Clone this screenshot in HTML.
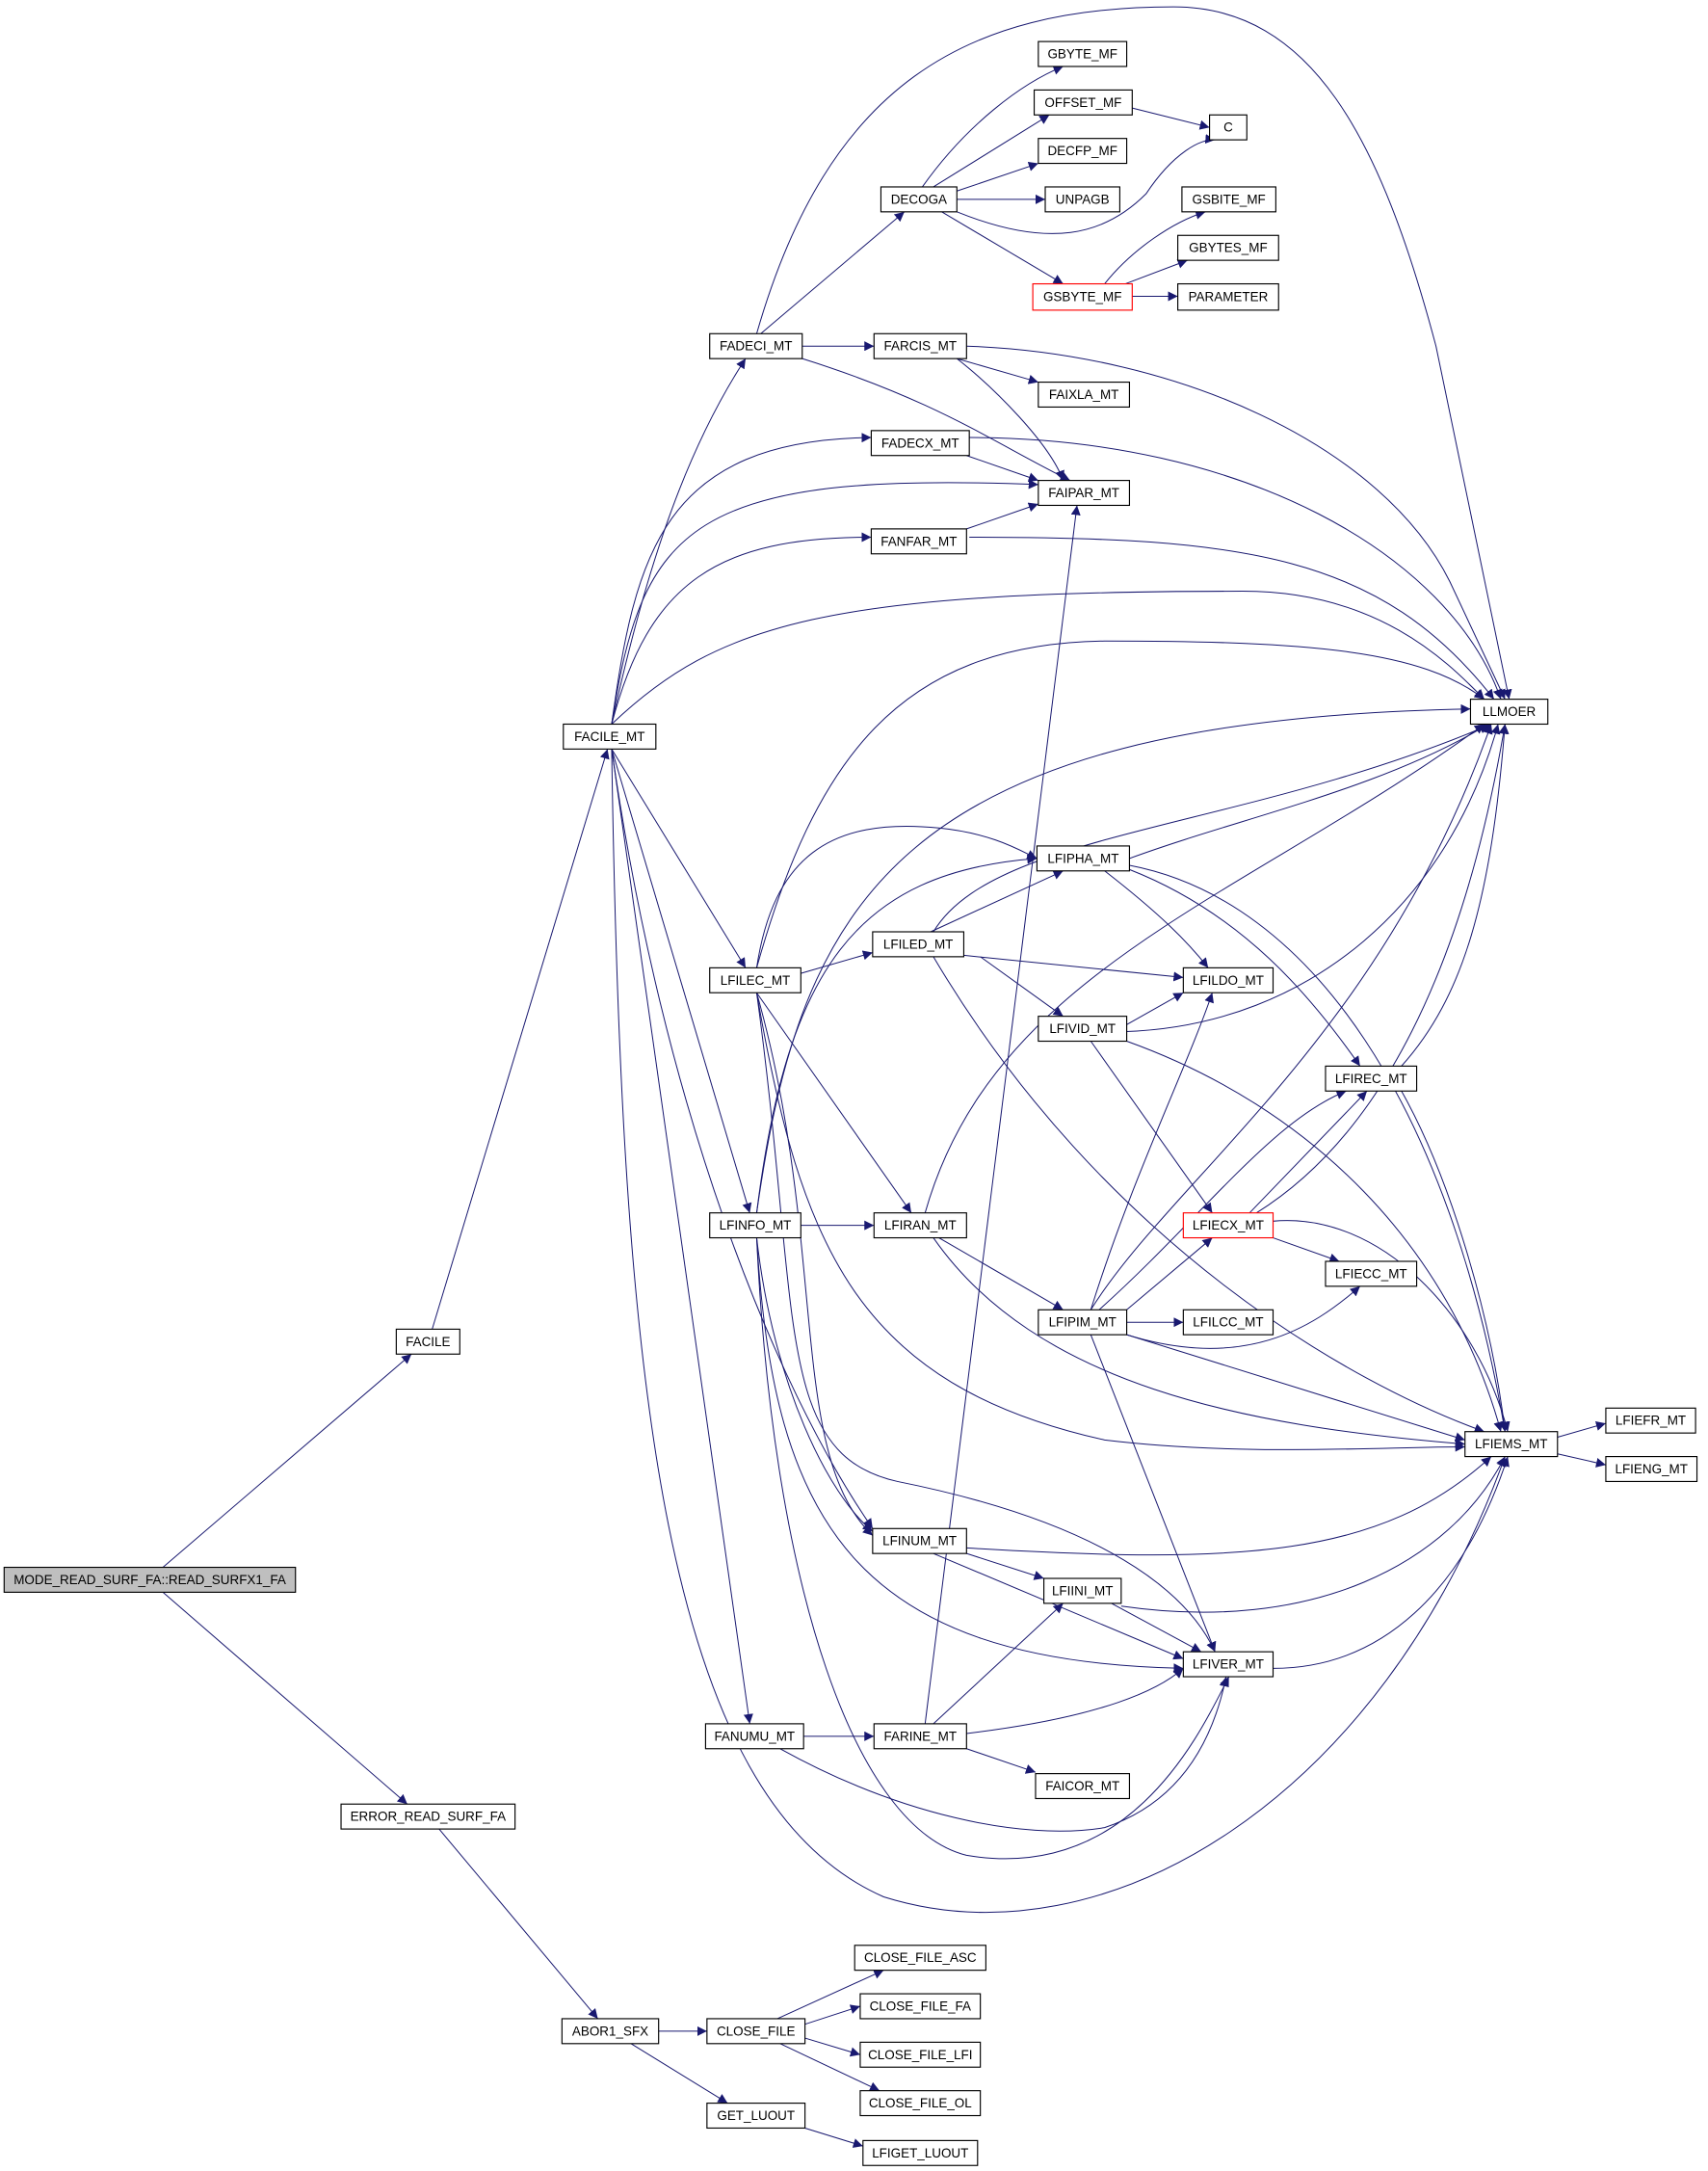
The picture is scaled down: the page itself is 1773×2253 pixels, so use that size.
<!DOCTYPE html>
<html><head><meta charset="utf-8"><style>
html,body{margin:0;padding:0;background:#fff;}
svg{display:block;}
text{font-family:"Liberation Sans",sans-serif;font-size:9.4px;fill:#000;text-anchor:middle;dominant-baseline:central;}
.n{fill:#fff;stroke:#000;stroke-width:0.8;}
.r{fill:#fff;stroke:#f00;stroke-width:0.8;}
.e{fill:none;stroke:#191970;stroke-width:0.7;marker-end:url(#a);}
</style></head><body>
<svg width="1773" height="2253" viewBox="0 0 1237 1568" preserveAspectRatio="none" xmlns="http://www.w3.org/2000/svg">
<defs><marker id="a" viewBox="0 0 10 10" refX="10" refY="5" markerWidth="7" markerHeight="7" markerUnits="userSpaceOnUse" orient="auto"><path d="M0,0 L10,5 L0,10 z" fill="#191970"/></marker></defs>
<g>
<path class="e" d="M118,1132 L298,978"/>
<path class="e" d="M118,1150 L295,1303"/>
<path class="e" d="M318,1321 L433,1458"/>
<path class="e" d="M477,1467 L512,1467"/>
<path class="e" d="M457,1476 L527,1519"/>
<path class="e" d="M563,1458 L640,1423"/>
<path class="e" d="M583,1462 L623,1449"/>
<path class="e" d="M583,1472 L623,1484"/>
<path class="e" d="M565,1476 L637,1510"/>
<path class="e" d="M583,1537 L625,1550"/>
<path class="e" d="M313,960 L440,541"/>
<path class="e" d="M443,523 C470,400 500,320 540,259"/>
<path class="e" d="M443,523 C460,400 480,318 631,316"/>
<path class="e" d="M443,523 C465,380 500,340 752,350"/>
<path class="e" d="M443,523 C470,420 520,388 631,388"/>
<path class="e" d="M443,523 C520,450 600,427 900,427 C1000,427 1050,480 1075,505"/>
<path class="e" d="M443,541 L540,699"/>
<path class="e" d="M443,541 L543,876"/>
<path class="e" d="M443,541 C480,800 560,1000 632,1104"/>
<path class="e" d="M443,541 L543,1245"/>
<path class="e" d="M443,541 C450,1000 480,1300 640,1370 C800,1420 1000,1300 1090,1052"/>
<path class="e" d="M551,241 L655,153"/>
<path class="e" d="M548,241 C600,60 700,5 850,5 C950,5 1000,100 1040,250 L1093,505"/>
<path class="e" d="M581,250 L633,250"/>
<path class="e" d="M581,259 C680,290 720,320 775,347"/>
<path class="e" d="M668,135 C700,90 740,60 770,48"/>
<path class="e" d="M676,135 L760,83"/>
<path class="e" d="M693,138 L752,118"/>
<path class="e" d="M693,144 L757,144"/>
<path class="e" d="M693,153 C760,180 800,170 830,140 C850,110 870,100 880,101"/>
<path class="e" d="M682,153 L770,205"/>
<path class="e" d="M820,78 L876,92"/>
<path class="e" d="M800,205 C820,180 850,160 873,153"/>
<path class="e" d="M815,205 L860,188"/>
<path class="e" d="M820,214 L853,214"/>
<path class="e" d="M693,259 L752,276"/>
<path class="e" d="M693,259 C720,280 760,320 770,347"/>
<path class="e" d="M700,250 C850,255 1000,320 1050,420 L1090,505"/>
<path class="e" d="M700,329 L752,347"/>
<path class="e" d="M702,316 C900,316 1050,400 1087,505"/>
<path class="e" d="M700,382 L752,364"/>
<path class="e" d="M702,388 C900,388 1000,400 1082,505"/>
<path class="e" d="M580,703 L632,688"/>
<path class="e" d="M548,699 C560,620 600,590 680,598 C720,602 740,615 751,620"/>
<path class="e" d="M548,699 C590,550 650,465 800,463 C950,463 1030,470 1075,505"/>
<path class="e" d="M548,717 L660,876"/>
<path class="e" d="M548,717 C580,900 620,1000 800,1040 C900,1052 1000,1045 1061,1045"/>
<path class="e" d="M548,717 C600,900 570,1050 632,1109"/>
<path class="e" d="M548,717 C580,950 560,1050 650,1070 C800,1100 860,1150 880,1193"/>
<path class="e" d="M674,673 L770,629"/>
<path class="e" d="M698,690 L857,706"/>
<path class="e" d="M710,691 L770,734"/>
<path class="e" d="M676,673 C720,600 900,600 1080,523"/>
<path class="e" d="M676,691 C800,900 980,1000 1075,1034"/>
<path class="e" d="M818,620 C900,590 1000,570 1078,523"/>
<path class="e" d="M800,629 C840,660 860,680 875,699"/>
<path class="e" d="M818,628 C900,660 950,720 985,770"/>
<path class="e" d="M818,625 C950,650 1050,800 1090,1034"/>
<path class="e" d="M816,740 L857,717"/>
<path class="e" d="M816,745 C950,740 1050,650 1085,523"/>
<path class="e" d="M790,752 L878,876"/>
<path class="e" d="M816,752 C950,800 1050,900 1087,1034"/>
<path class="e" d="M1015,770 C1060,720 1080,650 1090,523"/>
<path class="e" d="M1015,788 C1050,850 1080,950 1090,1034"/>
<path class="e" d="M580,885 L633,885"/>
<path class="e" d="M548,876 C570,700 620,630 751,620"/>
<path class="e" d="M548,876 C580,650 650,520 1065,512"/>
<path class="e" d="M548,894 C560,1000 600,1080 632,1106"/>
<path class="e" d="M548,894 C560,1100 620,1200 857,1205"/>
<path class="e" d="M548,894 C560,1150 620,1320 700,1340 C820,1360 870,1250 890,1211"/>
<path class="e" d="M670,876 C720,700 900,650 1075,523"/>
<path class="e" d="M680,894 L770,946"/>
<path class="e" d="M676,894 C750,1000 900,1030 1061,1043"/>
<path class="e" d="M790,946 C820,850 860,770 878,717"/>
<path class="e" d="M790,946 C850,850 1000,750 1080,523"/>
<path class="e" d="M796,946 C870,880 920,810 975,788"/>
<path class="e" d="M816,946 L878,894"/>
<path class="e" d="M816,955 L857,955"/>
<path class="e" d="M816,964 C900,990 950,960 985,929"/>
<path class="e" d="M816,964 L1061,1040"/>
<path class="e" d="M790,964 L880,1193"/>
<path class="e" d="M905,876 L990,788"/>
<path class="e" d="M910,876 C1000,820 1060,700 1090,523"/>
<path class="e" d="M922,894 L970,911"/>
<path class="e" d="M922,882 C1000,875 1070,950 1092,1034"/>
<path class="e" d="M1128,1038 L1163,1028"/>
<path class="e" d="M1128,1050 L1163,1058"/>
<path class="e" d="M700,1122 L756,1140"/>
<path class="e" d="M676,1122 L857,1198"/>
<path class="e" d="M700,1118 C900,1130 1000,1125 1080,1052"/>
<path class="e" d="M805,1158 L870,1193"/>
<path class="e" d="M812,1160 C950,1180 1050,1130 1090,1052"/>
<path class="e" d="M922,1205 C1000,1205 1060,1150 1092,1052"/>
<path class="e" d="M582,1254 L633,1254"/>
<path class="e" d="M565,1263 C650,1310 740,1330 800,1320 C860,1300 880,1250 888,1211"/>
<path class="e" d="M676,1245 L770,1158"/>
<path class="e" d="M700,1252 C800,1240 840,1220 857,1205"/>
<path class="e" d="M700,1263 L750,1280"/>
<path class="e" d="M670,1245 L780,365"/>
</g>
<g>
<rect x="3" y="1132" width="211" height="18" fill="#bfbfbf" stroke="#000" stroke-width="0.8"/><text x="108.5" y="1141">MODE_READ_SURF_FA::READ_SURFX1_FA</text>
<rect class="n" x="287" y="960" width="46" height="18"/><text x="310" y="969">FACILE</text>
<rect class="n" x="247" y="1303" width="126" height="18"/><text x="310" y="1312">ERROR_READ_SURF_FA</text>
<rect class="n" x="407" y="1458" width="70" height="18"/><text x="442" y="1467">ABOR1_SFX</text>
<rect class="n" x="512" y="1458" width="71" height="18"/><text x="547.5" y="1467">CLOSE_FILE</text>
<rect class="n" x="512" y="1519" width="71" height="18"/><text x="547.5" y="1528">GET_LUOUT</text>
<rect class="n" x="619" y="1405" width="95" height="18"/><text x="666.5" y="1414">CLOSE_FILE_ASC</text>
<rect class="n" x="623" y="1440" width="87" height="18"/><text x="666.5" y="1449">CLOSE_FILE_FA</text>
<rect class="n" x="623" y="1475" width="87" height="18"/><text x="666.5" y="1484">CLOSE_FILE_LFI</text>
<rect class="n" x="623" y="1510" width="87" height="18"/><text x="666.5" y="1519">CLOSE_FILE_OL</text>
<rect class="n" x="625" y="1546" width="83" height="18"/><text x="666.5" y="1555">LFIGET_LUOUT</text>
<rect class="n" x="408" y="523" width="67" height="18"/><text x="441.5" y="532">FACILE_MT</text>
<rect class="n" x="514" y="241" width="67" height="18"/><text x="547.5" y="250">FADECI_MT</text>
<rect class="n" x="638" y="135" width="55" height="18"/><text x="665.5" y="144">DECOGA</text>
<rect class="n" x="752" y="30" width="64" height="18"/><text x="784" y="39">GBYTE_MF</text>
<rect class="n" x="749" y="65" width="71" height="18"/><text x="784.5" y="74">OFFSET_MF</text>
<rect class="n" x="752" y="100" width="64" height="18"/><text x="784" y="109">DECFP_MF</text>
<rect class="n" x="757" y="135" width="54" height="18"/><text x="784" y="144">UNPAGB</text>
<rect class="n" x="876" y="83" width="27" height="18"/><text x="889.5" y="92">C</text>
<rect class="n" x="856" y="135" width="68" height="18"/><text x="890" y="144">GSBITE_MF</text>
<rect class="n" x="853" y="170" width="73" height="18"/><text x="889.5" y="179">GBYTES_MF</text>
<rect class="r" x="748" y="205" width="72" height="19"/><text x="784" y="214.5">GSBYTE_MF</text>
<rect class="n" x="853" y="205" width="73" height="19"/><text x="889.5" y="214.5">PARAMETER</text>
<rect class="n" x="633" y="241" width="67" height="18"/><text x="666.5" y="250">FARCIS_MT</text>
<rect class="n" x="752" y="276" width="66" height="18"/><text x="785" y="285">FAIXLA_MT</text>
<rect class="n" x="631" y="311" width="71" height="18"/><text x="666.5" y="320">FADECX_MT</text>
<rect class="n" x="752" y="347" width="66" height="18"/><text x="785" y="356">FAIPAR_MT</text>
<rect class="n" x="631" y="382" width="69" height="18"/><text x="665.5" y="391">FANFAR_MT</text>
<rect class="n" x="1065" y="505" width="56" height="18"/><text x="1093" y="514">LLMOER</text>
<rect class="n" x="751" y="611" width="67" height="18"/><text x="784.5" y="620">LFIPHA_MT</text>
<rect class="n" x="632" y="673" width="66" height="18"/><text x="665" y="682">LFILED_MT</text>
<rect class="n" x="514" y="699" width="66" height="18"/><text x="547" y="708">LFILEC_MT</text>
<rect class="n" x="857" y="699" width="65" height="18"/><text x="889.5" y="708">LFILDO_MT</text>
<rect class="n" x="752" y="734" width="64" height="18"/><text x="784" y="743">LFIVID_MT</text>
<rect class="n" x="960" y="770" width="66" height="18"/><text x="993" y="779">LFIREC_MT</text>
<rect class="n" x="514" y="876" width="66" height="18"/><text x="547" y="885">LFINFO_MT</text>
<rect class="n" x="633" y="876" width="67" height="18"/><text x="666.5" y="885">LFIRAN_MT</text>
<rect class="r" x="857" y="876" width="65" height="18"/><text x="889.5" y="885">LFIECX_MT</text>
<rect class="n" x="960" y="911" width="66" height="18"/><text x="993" y="920">LFIECC_MT</text>
<rect class="n" x="752" y="946" width="64" height="18"/><text x="784" y="955">LFIPIM_MT</text>
<rect class="n" x="857" y="946" width="65" height="18"/><text x="889.5" y="955">LFILCC_MT</text>
<rect class="n" x="1061" y="1034" width="67" height="18"/><text x="1094.5" y="1043">LFIEMS_MT</text>
<rect class="n" x="1163" y="1017" width="65" height="18"/><text x="1195.5" y="1026">LFIEFR_MT</text>
<rect class="n" x="1163" y="1052" width="66" height="18"/><text x="1196" y="1061">LFIENG_MT</text>
<rect class="n" x="632" y="1104" width="68" height="18"/><text x="666" y="1113">LFINUM_MT</text>
<rect class="n" x="756" y="1140" width="56" height="18"/><text x="784" y="1149">LFIINI_MT</text>
<rect class="n" x="857" y="1193" width="65" height="18"/><text x="889.5" y="1202">LFIVER_MT</text>
<rect class="n" x="511" y="1245" width="71" height="18"/><text x="546.5" y="1254">FANUMU_MT</text>
<rect class="n" x="633" y="1245" width="67" height="18"/><text x="666.5" y="1254">FARINE_MT</text>
<rect class="n" x="750" y="1281" width="68" height="18"/><text x="784" y="1290">FAICOR_MT</text>
</g>
</svg>
</body></html>
